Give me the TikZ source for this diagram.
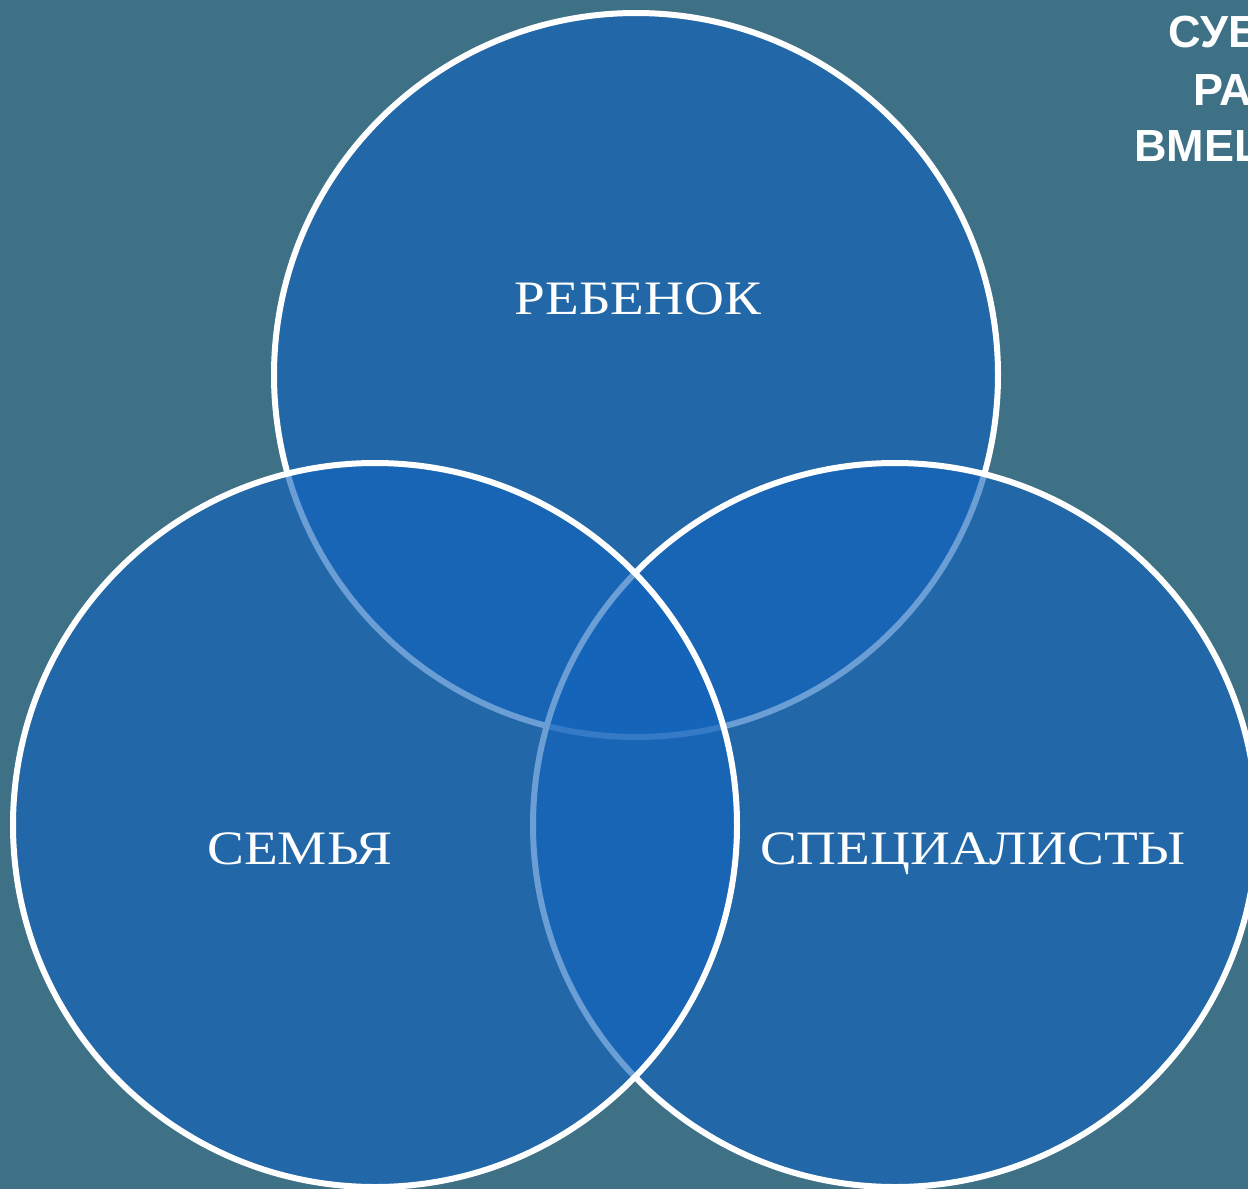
\documentclass[tikz,border=0pt]{standalone}
\usepackage{fontspec}
\newfontfamily\labelfont[FakeStretch=1.15]{Liberation Serif}
\newfontfamily\headfont{Liberation Sans}
\definecolor{bgteal}{RGB}{62,113,134}
\definecolor{vennblue}{RGB}{18,100,190}
\begin{document}
\begin{tikzpicture}[x=1pt,y=-1pt,
  venn/.style={circle, draw=white, line width=6pt, fill=vennblue, fill opacity=0.62,
    minimum size=724pt, inner sep=0pt},
  lbl/.style={text=white, font=\labelfont\fontsize{48}{56}\selectfont, inner sep=0pt, anchor=base},
  head/.style={text=white, font=\headfont\bfseries\fontsize{45}{52}\selectfont, inner sep=0pt, anchor=base west}]
\useasboundingbox (0,0) rectangle (1248,1189);
\fill[bgteal] (0,0) rectangle (1248,1189);
\clip (0,0) rectangle (1248,1189);
\node[venn] (child) at (636,375) {};
\node[venn] (spec) at (895,825) {};
\node[venn] (family) at (375,825) {};
\node[lbl] (tchild) at (638,314) {РЕБЕНОК};
\node[lbl] (tfamily) at (300,864) {СЕМЬЯ};
\node[lbl] (tspec) at (973,864) {СПЕЦИАЛИСТЫ};
\node[head] (h1) at (1168,47) {СУБЪЕКТЫ};
\node[head] (h2) at (1193,105) {РАННЕГО};
\node[head] (h3) at (1134,161) {ВМЕШАТЕЛЬСТВА};
\end{tikzpicture}
\end{document}
